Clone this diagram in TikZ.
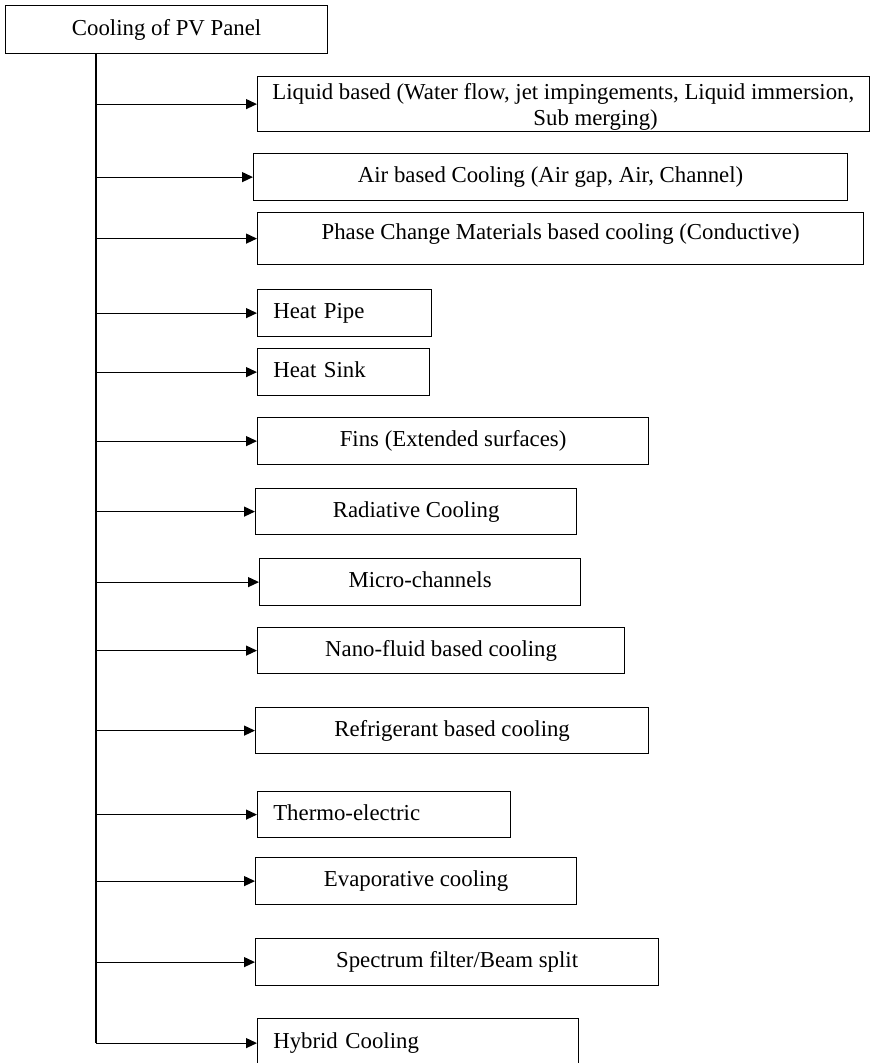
\documentclass[tikz,border=0pt]{standalone}
\usepackage{fontspec}
\setmainfont{Liberation Serif}
\usetikzlibrary{arrows.meta}
\begin{document}
\begin{tikzpicture}[x=1pt,y=-1pt,
  every node/.style={font=\fontsize{22.8}{26}\selectfont},
  frame/.style={draw, line width=1.2pt, inner sep=0pt, anchor=north west},
  box/.style={frame, text height=16pt, text depth=5pt},
  lbox/.style={box, align=left, inner xsep=15.7pt},
  link/.style={line width=1.2pt, -{Triangle[length=11pt,width=10pt]}},
  trunkline/.style={line width=1.2pt}]
\useasboundingbox (0,0) rectangle (870,1063);

% root
\node[box, minimum width=322pt, minimum height=48pt] (panel) at (5,5) {Cooling of PV Panel};

% cooling methods
\node[frame, minimum width=611.5pt, minimum height=55pt, align=left] (liquid) at (257,76)
  {\rule{0pt}{22pt}Liquid based (Water flow, jet impingements, Liquid immersion,\\\hspace*{261pt}Sub merging)};
\node[box, minimum width=594pt, minimum height=47pt] (air) at (253,153)
  {Air based Cooling (Air gap, Air, Channel)};
\node[box, text depth=15pt, minimum width=606pt, minimum height=52pt] (pcm) at (257,212)
  {Phase Change Materials based cooling (Conductive)};
\node[lbox, minimum width=174pt, text width=142.6pt, minimum height=47pt] (pipe) at (257,289) {Heat Pipe};
\node[lbox, minimum width=172pt, text width=140.6pt, minimum height=47pt] (sink) at (257,348) {Heat Sink};
\node[box, minimum width=391pt, minimum height=47pt] (fins) at (257,417) {Fins (Extended surfaces)};
\node[box, minimum width=321pt, minimum height=46pt] (rad) at (255,488) {Radiative Cooling};
\node[box, minimum width=321pt, minimum height=47pt] (micro) at (259,558) {Micro-channels};
\node[box, minimum width=367pt, minimum height=46pt] (nano) at (257,627) {Nano-fluid based cooling};
\node[box, minimum width=393pt, minimum height=46pt] (refr) at (255,707) {Refrigerant based cooling};
\node[lbox, minimum width=253pt, text width=221.6pt, minimum height=46pt] (thermo) at (257,791) {Thermo-electric};
\node[box, minimum width=321pt, minimum height=47pt] (evap) at (255,857) {Evaporative cooling};
\node[box, minimum width=403pt, minimum height=47pt] (spec) at (255,938) {Spectrum filter/Beam split};
\node[lbox, minimum width=321pt, text width=289.6pt, minimum height=49pt] (hybrid) at (257,1018) {Hybrid Cooling};

% trunk and branches
\coordinate (trunktop) at (96,53);
\draw[trunkline] (trunktop) -- (trunktop |- hybrid.west);
\foreach \n in {liquid,air,pcm,pipe,sink,fins,rad,micro,nano,refr,thermo,evap,spec,hybrid}
  \draw[link] (trunktop |- \n.west) -- (\n.west);
\end{tikzpicture}
\end{document}
